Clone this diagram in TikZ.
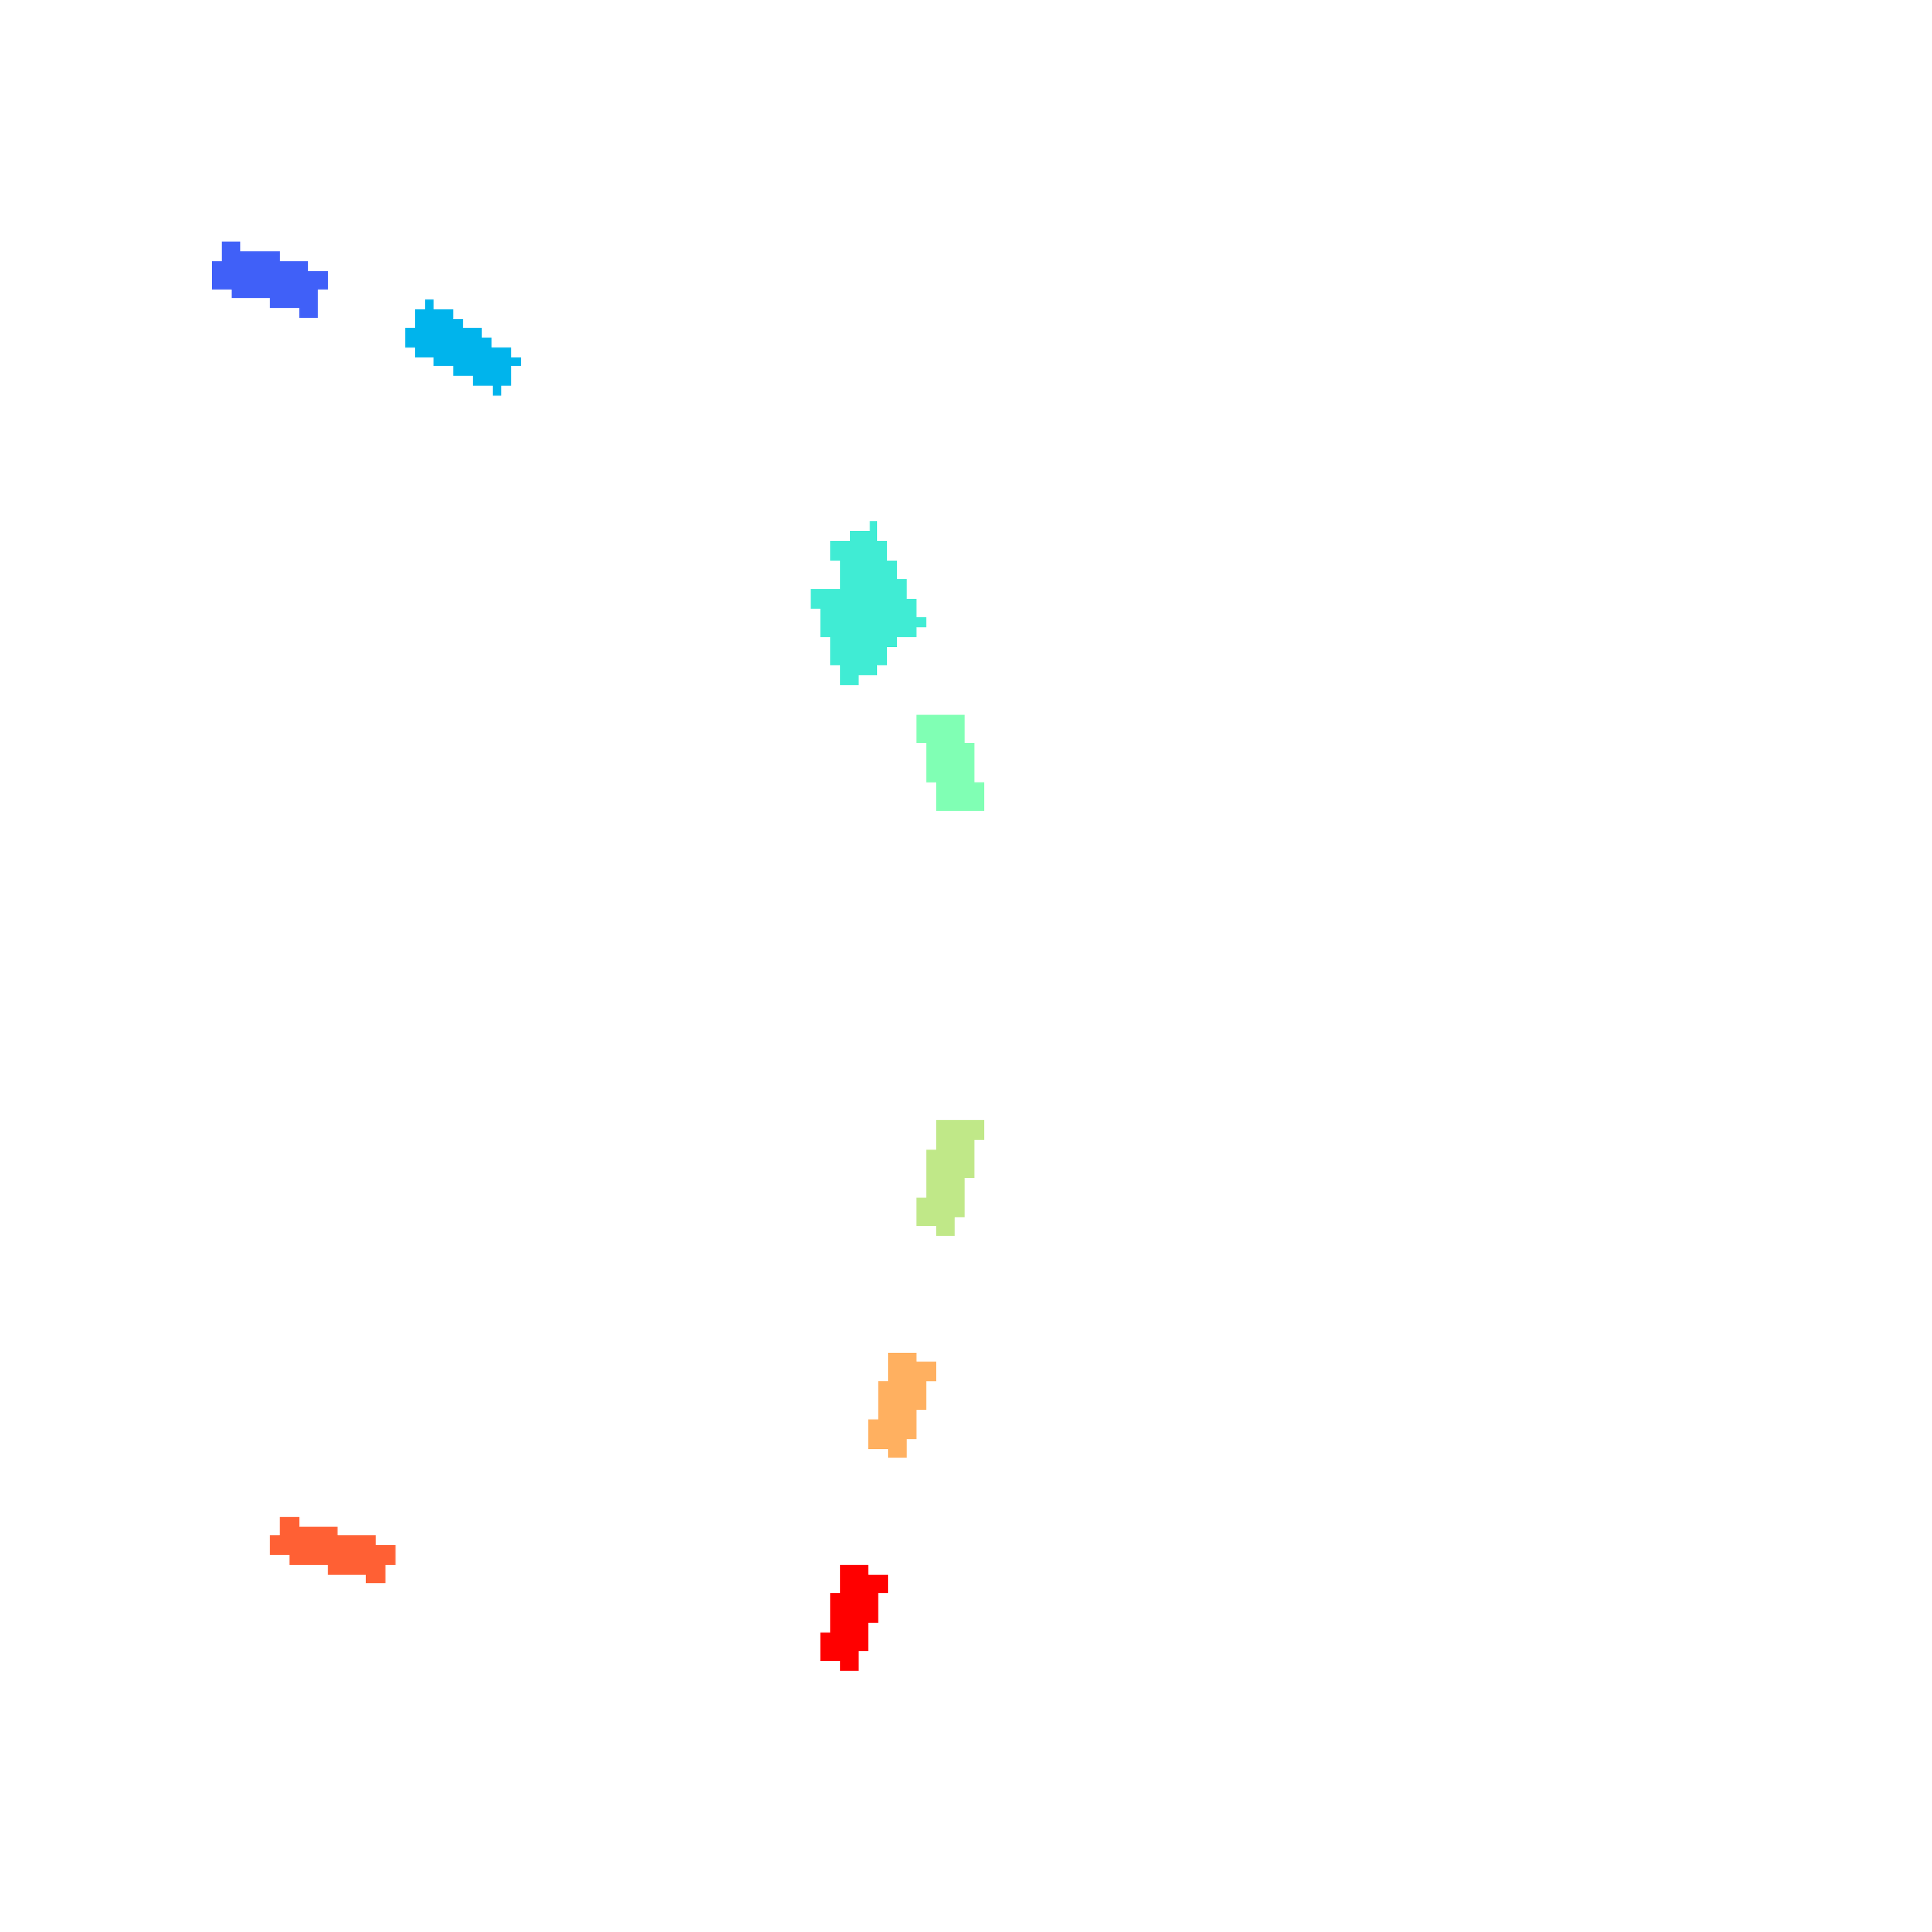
\documentclass[tikz,border=0pt]{standalone}
\begin{document}
\begin{tikzpicture}[x=0.01cm,y=-0.01cm]
\tikzset{blob/.style={fill=#1,draw=none}}
\definecolor{cA}{HTML}{4060F8}\definecolor{cB}{HTML}{00B4EC}\definecolor{cC}{HTML}{40ECD4}
\definecolor{cD}{HTML}{80FFB4}\definecolor{cE}{HTML}{C0E888}\definecolor{cF}{HTML}{FFB060}
\definecolor{cG}{HTML}{FF6034}\definecolor{cH}{HTML}{FF0000}
\useasboundingbox[fill=white] (0,0) rectangle (1568,1568);
\fill[blob=cA] (180,196)--(195,196)--(195,204)--(227,204)--(227,212)--(250,212)--(250,220)--(266,220)--(266,235)--(258,235)--(258,258)--(243,258)--(243,250)--(219,250)--(219,242)--(188,242)--(188,235)--(172,235)--(172,212)--(180,212)--cycle;
\fill[blob=cB] (345,243)--(352,243)--(352,251)--(368,251)--(368,259)--(376,259)--(376,266)--(391,266)--(391,274)--(399,274)--(399,282)--(415,282)--(415,290)--(423,290)--(423,297)--(415,297)--(415,313)--(407,313)--(407,321)--(400,321)--(400,313)--(384,313)--(384,305)--(368,305)--(368,297)--(352,297)--(352,290)--(337,290)--(337,282)--(329,282)--(329,266)--(337,266)--(337,251)--(345,251)--cycle;
\fill[blob=cC] (706,423)--(712,423)--(712,439)--(720,439)--(720,455)--(728,455)--(728,470)--(736,470)--(736,486)--(744,486)--(744,501)--(752,501)--(752,509)--(744,509)--(744,517)--(728,517)--(728,525)--(720,525)--(720,540)--(712,540)--(712,548)--(697,548)--(697,556)--(682,556)--(682,540)--(674,540)--(674,517)--(666,517)--(666,494)--(658,494)--(658,478)--(682,478)--(682,455)--(674,455)--(674,439)--(690,439)--(690,431)--(706,431)--cycle;
\fill[blob=cD] (744,580)--(783,580)--(783,603)--(791,603)--(791,635)--(799,635)--(799,658)--(760,658)--(760,635)--(752,635)--(752,603)--(744,603)--cycle;
\fill[blob=cE] (760,909)--(799,909)--(799,925)--(791,925)--(791,956)--(783,956)--(783,988)--(775,988)--(775,1003)--(760,1003)--(760,995)--(744,995)--(744,972)--(752,972)--(752,933)--(760,933)--cycle;
\fill[blob=cF] (721,1098)--(744,1098)--(744,1105)--(760,1105)--(760,1121)--(752,1121)--(752,1144)--(744,1144)--(744,1168)--(736,1168)--(736,1183)--(721,1183)--(721,1176)--(705,1176)--(705,1152)--(713,1152)--(713,1121)--(721,1121)--cycle;
\fill[blob=cG] (227,1231)--(243,1231)--(243,1239)--(274,1239)--(274,1246)--(305,1246)--(305,1254)--(321,1254)--(321,1270)--(313,1270)--(313,1285)--(297,1285)--(297,1278)--(266,1278)--(266,1270)--(235,1270)--(235,1262)--(219,1262)--(219,1246)--(227,1246)--cycle;
\fill[blob=cH] (682,1270)--(705,1270)--(705,1278)--(721,1278)--(721,1293)--(713,1293)--(713,1317)--(705,1317)--(705,1340)--(697,1340)--(697,1356)--(682,1356)--(682,1348)--(666,1348)--(666,1325)--(674,1325)--(674,1293)--(682,1293)--cycle;
\end{tikzpicture}
\end{document}
